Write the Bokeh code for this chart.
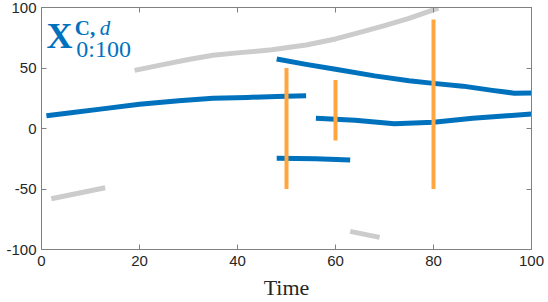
from bokeh.plotting import figure
from bokeh.models import Label, LinearAxis, Range1d, FixedTicker
from bokeh.embed import file_html
from bokeh.resources import INLINE

# ---- data ----
x_ticks = [0, 20, 40, 60, 80, 100]
y_ticks = [-100, -50, 0, 50, 100]
y_tick_labels = {-100: "-100", -50: "-50", 0: "0", 50: "50", 100: "100"}

# blue trajectories
b1_t = [1, 6, 12, 20, 28, 35, 42, 48, 54]
b1_y = [10.5, 13, 16, 20, 23, 25, 25.7, 26.5, 27]
b2_t = [48, 54, 60, 68, 75, 80, 86, 92, 96.5, 100]
b2_y = [57.5, 53, 49, 43.5, 39.5, 37.3, 35, 31.5, 29.2, 29.3]
b3_t = [56, 64, 72, 80, 88, 95, 100]
b3_y = [8.5, 6.8, 4, 5.2, 8.5, 10.5, 12]
b4_t = [48, 56, 63]
b4_y = [-24.5, -25, -26]

# grey trajectories
g1_t = [19, 25, 30, 35, 40, 47, 54, 60, 65, 70, 75, 81]
g1_y = [48, 53, 57, 60.5, 62.5, 65, 69, 74, 79.5, 85, 91, 99.5]
g2_t = [2, 13]
g2_y = [-58, -49]
g3_t = [63, 69]
g3_y = [-85, -90]

# orange vertical bars
o_t = [50, 60, 80]
o_lo = [-50, -10, -50]
o_hi = [50, 40, 90]

BLUE = "#0072BD"
GREY = "#CCCCCC"
ORANGE = "#FFA640"
AXC = "#808080"
TXT = "#262626"

p = figure(width=548, height=302, output_backend="svg", toolbar_location=None,
           x_range=Range1d(0, 100), y_range=Range1d(-100, 100),
           min_border_left=41, min_border_right=17, min_border_top=7, min_border_bottom=52)
p.grid.visible = False
p.outline_line_color = AXC
p.background_fill_color = "white"
p.border_fill_color = "white"

for ax in (p.xaxis[0], p.yaxis[0]):
    ax.axis_line_color = AXC
    ax.major_tick_line_color = AXC
    ax.minor_tick_line_color = None
    ax.major_tick_in = 5
    ax.major_tick_out = 0
    ax.major_label_text_font = "Liberation Sans"
    ax.major_label_text_font_size = "15px"
    ax.major_label_text_color = TXT

p.xaxis.ticker = FixedTicker(ticks=x_ticks)
p.yaxis.ticker = FixedTicker(ticks=y_ticks)
p.yaxis.major_label_overrides = y_tick_labels
p.xaxis.major_label_standoff = 6
p.yaxis.major_label_standoff = 5
p.xaxis.axis_label = "Time"
p.xaxis.axis_label_text_font = "Liberation Serif"
p.xaxis.axis_label_text_font_style = "normal"
p.xaxis.axis_label_text_font_size = "22px"
p.xaxis.axis_label_text_color = TXT
p.xaxis.axis_label_standoff = 6

# box axes (top / right) with inward ticks, no labels
top = LinearAxis(ticker=FixedTicker(ticks=x_ticks))
right = LinearAxis(ticker=FixedTicker(ticks=y_ticks))
for ax in (top, right):
    ax.axis_line_color = AXC
    ax.major_tick_line_color = AXC
    ax.minor_tick_line_color = None
    ax.major_tick_in = 5
    ax.major_tick_out = 0
    ax.major_label_text_font_size = "0px"
    ax.major_label_standoff = 0
    ax.axis_label = None
p.add_layout(top, "above")
p.add_layout(right, "right")

lw = 5
for t, y in ((g1_t, g1_y), (g2_t, g2_y), (g3_t, g3_y)):
    p.line(t, y, line_color=GREY, line_width=lw, line_cap="butt", line_join="round")
for t, y in ((b1_t, b1_y), (b2_t, b2_y), (b3_t, b3_y), (b4_t, b4_y)):
    p.line(t, y, line_color=BLUE, line_width=lw, line_cap="butt", line_join="round")
p.segment(x0=o_t, y0=o_lo, x1=o_t, y1=o_hi, line_color=ORANGE, line_width=4, line_cap="butt")

# label X^{C,d}_{0:100}
p.add_layout(Label(x=1.0, y=60, text="X", text_font="Liberation Serif", text_font_style="bold",
                   text_font_size="36px", text_color=BLUE))
p.add_layout(Label(x=6.8, y=73.5, text="C,", text_font="Liberation Serif", text_font_style="bold",
                   text_font_size="21px", text_color=BLUE))
p.add_layout(Label(x=11.9, y=73.5, text="d", text_font="Liberation Serif", text_font_style="italic",
                   text_font_size="21px", text_color=BLUE))
p.add_layout(Label(x=7.1, y=55, text="0:100", text_font="Liberation Serif", text_font_style="normal",
                   text_font_size="24px", text_color=BLUE))

open("out.html", "w").write(file_html(p, INLINE))
